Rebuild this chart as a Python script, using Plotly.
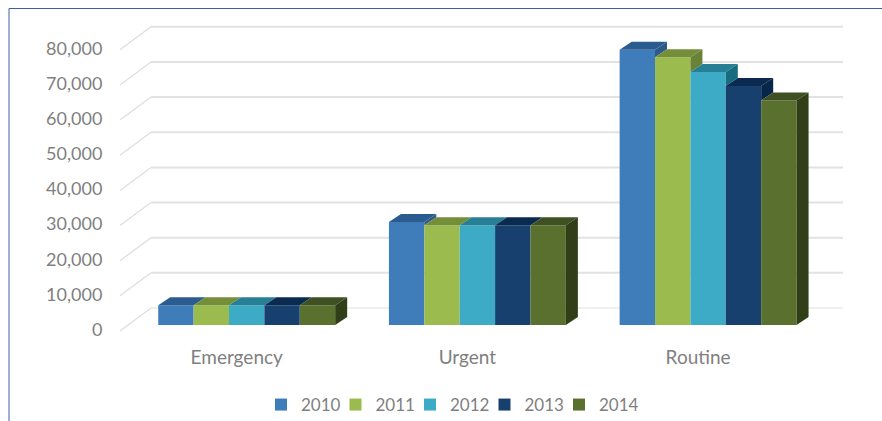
import plotly.graph_objects as go

categories = ["Emergency", "Urgent", "Routine"]
years = ["2010", "2011", "2012", "2013", "2014"]
values_2010 = [5600, 29300, 78300]
values_2011 = [5600, 28400, 76200]
values_2012 = [5600, 28400, 72000]
values_2013 = [5600, 28400, 68000]
values_2014 = [5600, 28400, 63900]
front_colors = ["#3F7CBA", "#9BBB4F", "#3DAAC6", "#17406F", "#59702F"]
top_colors = ["#2A5C90", "#748E3A", "#267F94", "#0B2A4F", "#3F5122"]
side_colors = ["#2D5A8A", "#6A8236", "#176C80", "#06264A", "#303F18"]
y_ticks = [0, 10000, 20000, 30000, 40000, 50000, 60000, 70000, 80000]
y_labels = ["0", "10,000", "20,000", "30,000", "40,000", "50,000", "60,000", "70,000", "80,000"]

W, H = 882, 421
ML, MR, MT, MB = 110, 30, 10, 81
X_UNIT = 230.7      # px per category
Y_UNIT = 35.15e-4   # px per value
X0 = 246.7          # px of first category centre
Y0 = 325            # px of value 0 (bar base)


def xd(dpx):
    return dpx / X_UNIT


def yd(dpx):
    return dpx / Y_UNIT


series = [values_2010, values_2011, values_2012, values_2013, values_2014]
bargap = 0.233
bar_w = (1 - bargap) / len(series)
dx, dy = xd(12), yd(8)
font = "Lato, 'Open Sans', sans-serif"
grey = "#7F7F7F"

fig = go.Figure()
for yr, vals, col in zip(years, series, front_colors):
    fig.add_trace(go.Bar(name=yr, x=list(range(len(categories))), y=vals,
                         marker=dict(color=col, line=dict(width=0))))

for s, vals in enumerate(series):
    for c, v in enumerate(vals):
        left = c - (1 - bargap) / 2 + s * bar_w
        right = left + bar_w
        nxt = series[s + 1][c] if s + 1 < len(series) else 0
        fig.add_trace(go.Scatter(
            x=[left, right, right + dx, left + dx, left],
            y=[v, v, v + dy, v + dy, v], mode="lines", fill="toself",
            fillcolor=top_colors[s], line=dict(width=0), showlegend=False, hoverinfo="skip"))
        base = nxt if nxt < v else v
        fig.add_trace(go.Scatter(x=[right, right + dx, right + dx, right, right],
                                 y=[v, v + dy, base + dy, base, v], mode="lines", fill="toself",
                                 fillcolor=side_colors[s], line=dict(width=0),
                                 showlegend=False, hoverinfo="skip"))

# empty legend entry: keeps the last real entry from being clipped at the narrow item width
fig.add_trace(go.Scatter(x=[None], y=[None], mode="lines", name=" ",
                         line=dict(color="rgba(0,0,0,0)"), hoverinfo="skip"))

front_x = (120 - X0) / X_UNIT
back_x = (151 - X0) / X_UNIT
end_x = (843 - X0) / X_UNIT
front_off = yd(-6)
back_off = yd(17)
shapes = []
for t in y_ticks:
    col = "#EFEFEF" if t == 0 else "#E2E2E2"
    shapes.append(dict(type="line", layer="below", xref="x", yref="y",
                       x0=front_x, x1=back_x, y0=t + front_off, y1=t + back_off,
                       line=dict(color="#DEDEDE", width=1.2)))
    shapes.append(dict(type="line", layer="below", xref="x", yref="y",
                       x0=back_x, x1=end_x, y0=t + back_off, y1=t + back_off,
                       line=dict(color=col, width=2)))

plot_w, plot_h = W - ML - MR, H - MT - MB
fx = lambda p: (p - ML) / plot_w
fy = lambda p: 1 - (p - MT) / plot_h
frame = "#3F5FA8"
shapes.append(dict(type="line", xref="paper", yref="paper", x0=fx(9), x1=fx(882), y0=fy(8.5), y1=fy(8.5),
                   line=dict(color=frame, width=1)))
shapes.append(dict(type="line", xref="paper", yref="paper", x0=fx(9), x1=fx(9), y0=fy(8.5), y1=fy(421),
                   line=dict(color=frame, width=1)))

fig.update_layout(
    width=W, height=H, autosize=False,
    margin=dict(l=ML, r=MR, t=MT, b=MB),
    paper_bgcolor="white", plot_bgcolor="white",
    barmode="group", bargap=bargap, bargroupgap=0,
    shapes=shapes,
    font=dict(family=font, color=grey, size=17),
    showlegend=True,
    legend=dict(orientation="h", xref="container", yref="container",
                xanchor="left", yanchor="middle",
                x=261 / W, y=1 - 405 / H, font=dict(size=17, color=grey),
                entrywidth=29.5, entrywidthmode="pixels", bgcolor="rgba(0,0,0,0)",
                traceorder="normal"),
    xaxis=dict(range=[(ML - X0) / X_UNIT, (W - MR - X0) / X_UNIT],
               tickmode="array",
               tickvals=[i - xd(10) for i in range(len(categories))],
               ticktext=categories, showgrid=False, zeroline=False, showline=False,
               ticks="outside", ticklen=0, tickcolor="rgba(0,0,0,0)",
               tickfont=dict(size=19, color=grey)),
    yaxis=dict(range=[(Y0 - (H - MB)) / Y_UNIT, (Y0 - MT) / Y_UNIT],
               tickmode="array", tickvals=[t - yd(4.5) for t in y_ticks], ticktext=y_labels,
               showgrid=False, zeroline=False, showline=False,
               ticks="outside", ticklen=3, tickcolor="rgba(0,0,0,0)",
               tickfont=dict(size=18, color=grey)),
)
fig.write_html("out.html", post_script="document.body.style.margin='0';",
               config=dict(displayModeBar=False))
